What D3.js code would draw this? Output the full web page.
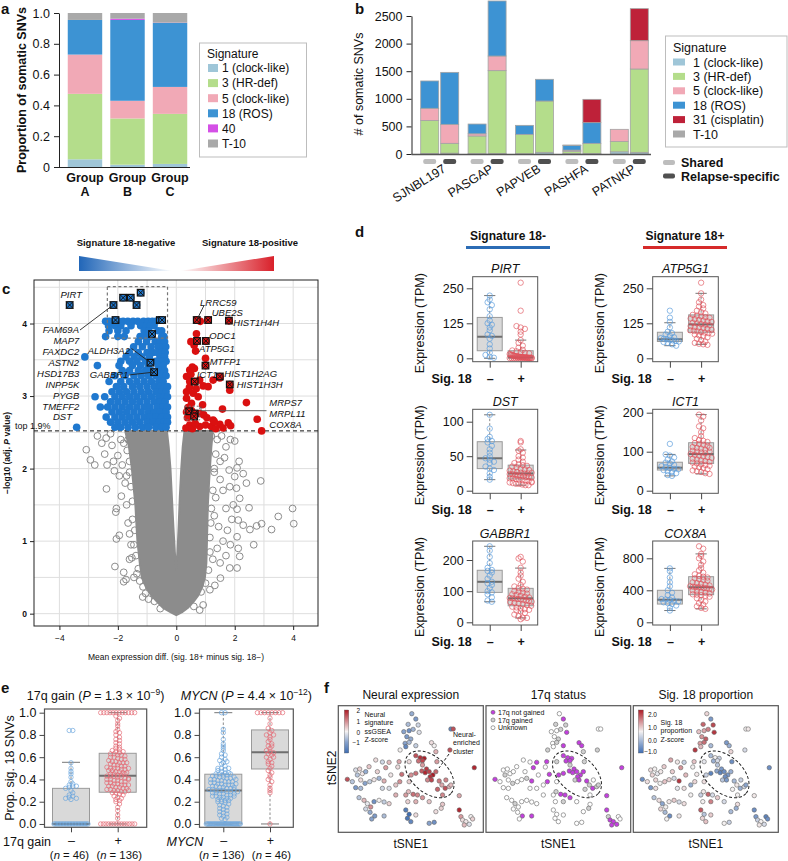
<!DOCTYPE html>
<html><head><meta charset="utf-8">
<script src="https://cdn.jsdelivr.net/npm/d3@7/dist/d3.min.js"></script>
<style>
html,body{margin:0;padding:0;background:#fff}
svg{display:block}
text{font-family:"Liberation Sans",Arial,Helvetica,sans-serif;fill:#111}
</style></head><body>
<svg id="fig" width="788" height="861"></svg>
<script>
// ================= DATA =================
// ---- panel a
const groupsA = ["A","B","C"];
const sigLabelsA = ["1 (clock-like)","3 (HR-def)","5 (clock-like)","18 (ROS)","40","T-10"];
const aSig1  = [0.050,0.015,0.020];
const aSig3  = [0.425,0.300,0.325];
const aSig5  = [0.255,0.115,0.175];
const aSig18 = [0.225,0.525,0.415];
const aSig40 = [0.000,0.008,0.002];
const aT10   = [0.045,0.037,0.063];
const aTicks = [0,0.2,0.4,0.6,0.8,1.0];
// ---- panel b
const patientsB = ["SJNBL197","PASGAP","PAPVEB","PASHFA","PATNKP"];
const sampleTypesB = ["Shared","Relapse-specific"];
const sigLabelsB = ["1 (clock-like)","3 (HR-def)","5 (clock-like)","18 (ROS)","31 (cisplatin)","T-10"];
// order: [shared, relapse] per patient
const bSig1  = [10,15, 6,10, 5,30, 10,8, 40,30];
const bSig3  = [595,178, 320,1500, 351,930, 40,185, 185,1510];
const bSig5  = [223,344, 40,265, 0,0, 20,0, 222,513];
const bSig18 = [495,942, 177,997, 163,393, 85,375, 0,0];
const bSig31 = [0,0, 0,0, 0,0, 0,422, 0,580];
const bT10   = [0,0, 0,0, 0,0, 8,0, 0,0];
const bTicks = [0,500,1000,1500,2000,2500];
// ---- panel c (volcano)
const cXTicks = [-4,-2,0,2,4];
const cYTicks = [0,1,2,3,4];
const cThreshold = 2.52;
const volBlueRows = [
 [4.03,[-2.42,-2.3,-2.18,-1.98,-1.82,-1.66,-1.48,-1.32,-1.12,-0.96,-0.82,-0.7]],
 [3.97,[-2.32,-2.1,-1.9,-1.55,-1.22,-1.02,-0.9,-0.76]],
 [3.90,[-2.3,-2.0,-1.72,-1.1,-0.94,-0.62,-0.5]],
 [3.82,[-2.42,-2.0,-1.78,-1.24,-1.05,-0.9,-0.5,-0.42]],
 [3.75,[-1.3,-1.02,-0.72,-0.56,-0.4]],
 [3.68,[-1.46,-1.16,-0.86,-0.62,-0.46,-0.36]],
 [3.60,[-1.6,-1.3,-1.0,-0.8,-0.65,-0.5,-0.38]],
 [3.54,[-3.13,-1.72,-1.44,-1.18,-0.92,-0.56,-0.4]],
 [3.48,[-1.9,-1.6,-1.35,-1.05,-0.7,-0.5,-0.35]],
 [3.42,[-2.7,-1.96,-1.5,-1.22,-0.96,-0.62,-0.45]],
 [3.35,[-1.85,-1.6,-1.3,-1.05,-0.85,-0.55,-0.4]],
 [3.28,[-2.1,-1.75,-1.45,-1.2,-0.95,-0.7,-0.5,-0.35]],
 [3.20,[-2.3,-1.9,-1.6,-1.35,-1.1,-0.85,-0.6,-0.45]],
 [3.13,[-2.05,-1.8,-1.5,-1.25,-1.0,-0.75,-0.55,-0.4,-0.3]],
 [3.06,[-2.2,-1.95,-1.7,-1.45,-1.2,-0.95,-0.7,-0.5,-0.35]],
 [2.99,[-2.78,-2.45,-2.1,-1.85,-1.6,-1.35,-1.1,-0.85,-0.6,-0.42,-0.3]],
 [2.92,[-2.25,-2.0,-1.75,-1.5,-1.25,-1.0,-0.75,-0.55,-0.38]],
 [2.85,[-2.6,-2.35,-2.1,-1.85,-1.6,-1.35,-1.1,-0.9,-0.65,-0.45,-0.3]],
 [2.78,[-2.2,-1.95,-1.7,-1.45,-1.2,-0.95,-0.75,-0.55,-0.35]],
 [2.71,[-2.4,-2.1,-1.85,-1.6,-1.35,-1.1,-0.9,-0.7,-0.5,-0.3]],
 [2.64,[-2.25,-2.0,-1.75,-1.5,-1.25,-1.0,-0.8,-0.6,-0.42,-0.3]],
 [2.57,[-3.41,-2.1,-1.9,-1.65,-1.4,-1.15,-0.95,-0.7,-0.5,-0.35]]
];
const volRed = [[0.70,4.05],[0.82,4.03],[1.09,4.05],[1.80,4.04],[0.69,3.86],[0.50,3.75],[0.61,3.70],[0.72,3.76],
 [1.01,3.76],[0.66,3.62],[1.0,3.52],[0.55,3.40],[0.46,3.36],[0.62,3.38],[0.35,3.27],[0.50,3.30],[0.46,3.20],
 [0.63,3.20],[0.80,3.22],[0.92,3.14],[1.09,3.13],[1.26,3.22],[1.83,3.08],[1.49,3.25],[0.35,3.06],[0.58,3.04],
 [0.75,2.99],[0.35,2.97],[0.52,2.90],[0.45,3.12],[0.68,3.10],[0.40,2.84],[2.40,2.91],[1.58,2.82],[2.77,2.68],
 [2.92,2.52],[0.80,2.76],[0.94,2.74],[1.26,2.67],[1.78,2.63],[1.86,2.59],[1.49,2.61],[1.20,2.58],[0.80,2.58],
 [0.46,2.60],[0.33,2.56],[0.55,2.55],[0.65,2.62],[1.00,2.60],[1.35,2.55],[1.60,2.56],[0.38,2.70],[0.62,2.70],
 [0.35,2.78],[0.52,2.80],[1.05,2.70],[0.90,2.88],[1.30,2.65]];
const hiBlueX = [-3.65,-2.15,-1.82,-1.56,-1.22,-1.36,-2.08,-0.565,-0.485,-0.83,-0.885,-0.76];
const hiBlueY = [4.255,4.255,4.356,4.356,4.425,4.255,4.048,4.048,4.048,3.855,3.46,3.33];
const hiRedX  = [0.70,1.09,1.80,1.01,0.71,1.00,0.63,1.49,1.83,0.44,0.63,0.61];
const hiRedY  = [4.048,4.048,4.04,3.76,3.76,3.42,3.20,3.27,3.16,2.79,2.76,2.72];
const greyCloudX = [-1.75,-1.62,-1.52,-1.45,-1.4,-1.36,-1.33,-1.25,-1.18,-1.02,-0.85,-0.6,-0.45,-0.2,0,0.2,0.4,0.6,0.75,0.9,0.98,1.03,1.05,1.08,1.12,1.15,1.2,1.25,0.28,0.22,0.17,0.12,0.08,0.04,0.0,-0.05,-0.1,-0.15,-0.2,-0.26,-0.32];
const greyCloudY = [2.52,2.3,2.0,1.7,1.5,1.2,1.0,0.7,0.5,0.35,0.25,0.14,0.08,0.02,-0.02,0.02,0.08,0.17,0.25,0.38,0.5,0.7,1.0,1.5,1.8,2.0,2.3,2.52,2.52,2.3,2.0,1.6,1.2,0.85,0.6,0.85,1.2,1.6,2.0,2.3,2.52];
const greyPts = [[-3.08,2.26],[-2.94,2.12],[-2.79,2.05],[-2.37,2.05],[-2.45,2.2],[-2.2,2.32],[-2.0,2.18],[-2.12,1.97],
 [-1.95,1.9],[-1.85,2.05],[-2.39,1.72],[-2.05,1.45],[-2.07,1.4],[-1.88,1.62],[-1.65,1.25],[-2.05,1.03],[-1.95,1.08],
 [-1.6,0.75],[-1.52,0.77],[-2.1,0.65],[-1.8,0.57],[-1.8,0.44],[-1.72,0.47],[-1.45,0.5],[-1.14,0.37],[-1.15,0.23],
 [-2.7,2.45],[-2.4,2.42],[-2.55,2.35],[-2.25,2.48],[-1.75,1.8],[-1.7,1.5],[-1.6,1.1],[-1.55,0.95],[-1.35,0.55],
 [-0.95,0.2],[-1.9,2.4],[-2.15,2.1],[-1.68,2.25],[-1.6,1.95],[-1.65,2.4],[-1.8,2.35],[-1.6,2.1],[-1.7,1.9],
 [-1.55,1.75],[-1.5,1.55],[-1.5,1.3],[-1.42,1.15],[-1.45,0.95],[-1.38,0.8],[-1.3,0.62],[-1.25,0.45],[-1.05,0.28],
 [-0.75,0.17],[-0.55,0.07],
 [2.15,2.10],[2.29,1.93],[2.40,1.80],[2.89,1.83],[2.08,2.01],[2.0,1.89],[1.81,1.98],[2.06,1.73],[1.83,1.75],
 [2.49,1.46],[3.98,1.45],[3.49,1.34],[4.02,1.24],[2.92,1.24],[2.75,1.21],[3.26,1.16],[2.52,1.16],[2.65,0.95],
 [2.29,1.22],[2.12,1.29],[2.08,1.44],[2.17,1.59],[2.08,1.06],[2.12,0.90],[2.17,0.79],[2.08,0.63],[1.83,0.63],
 [1.51,0.49],[1.32,0.39],[1.15,0.33],[1.7,2.3],[1.85,2.4],[1.55,2.45],[2.0,2.38],[1.65,2.15],[1.6,1.7],[1.7,1.45],
 [1.9,1.3],[1.75,1.15],[1.6,1.0],[1.85,0.95],[1.7,0.8],[1.5,0.7],[1.95,1.5],[1.45,1.2],[1.4,0.9],[0.92,0.12],
 [0.8,0.05],[1.3,2.0],[1.5,1.85],[1.2,2.45],[1.35,2.2],[1.3,1.95],[1.25,1.7],[1.2,1.45],[1.18,1.25],[1.15,1.05],
 [1.15,0.85],[1.1,0.6],[1.0,0.42],[0.85,0.3],[0.6,0.1],[1.4,2.4],[1.5,2.1],[1.35,1.6],[1.3,1.35],[1.25,0.75]];
// ---- panel d (expression boxplots); stats = [low whisker, Q1, median, Q3, high whisker]
const dGenes = ["PIRT","ATP5G1","DST","ICT1","GABBR1","COX8A"];
const dTicks = [[0,125,250],[0,125,250],[0,50,100],[0,100,200],[0,100,200],[0,400,800]];
const dStatNeg = [[0,27,77,146,224],[45,60,68,93,127],[16,32,47,71,110],[38,53,59,73,93],[66,96,130,167,244],[147,228,282,400,674]];
const dStatPos = [[0,0.5,3.5,27,65],[50,93,121,155,232],[8,17,25,37,59],[43,70,94,123,195],[14,53,77,109,174],[168,345,438,570,855]];
const dNeg = [
 [224,210,200,190,175,150,135,125,120,110,100,85,80,70,50,35,20,12,5,2],
 [170,145,130,110,95,90,85,80,75,72,70,68,66,64,62,60,58,55,50,45],
 [110,90,78,75,72,70,65,60,55,50,47,45,42,40,35,32,30,25,20,16],
 [120,93,90,85,80,75,72,70,66,63,60,58,56,55,53,50,48,45,40,38],
 [244,230,210,190,175,168,165,160,150,140,130,125,120,110,100,96,90,80,70,66],
 [674,640,560,500,450,400,370,340,310,290,285,280,270,260,250,240,230,210,180,147]];
const dPos = [
 [270,170,115,110,105,95,85,65,55,45,38,30,28,25,22,20,18,15,14,12,10,9,8,7,6,6,5,5,4,4,4,3,3,3,2,2,2,2,1,1,1,1,1,0.5,0.5,0.5,0,0,0,0],
 [270,232,210,200,190,185,178,170,165,160,155,152,150,147,145,142,140,137,135,132,130,127,125,122,120,118,115,112,110,108,105,102,100,98,96,94,92,90,88,85,82,80,75,70,65,60,55,52,50,48],
 [72,70,60,58,55,50,48,45,42,40,38,37,36,35,34,32,31,30,29,28,27,26,25,25,24,24,23,22,22,21,20,20,19,18,18,17,16,16,15,14,13,12,11,10,10,9,8,8,12,26],
 [195,190,180,165,160,150,140,135,130,128,125,122,120,118,115,112,110,108,105,102,100,98,96,94,92,90,88,86,84,82,80,78,76,74,72,70,68,66,64,62,60,58,55,52,50,48,45,43,100,110],
 [210,205,195,175,160,150,140,130,120,115,110,108,105,100,98,95,92,90,88,85,82,80,78,77,76,75,74,72,70,68,66,65,62,60,58,55,53,50,48,45,42,40,38,35,30,25,20,15,10,14],
 [950,920,855,830,800,760,720,680,650,620,600,580,570,560,550,540,530,520,500,490,480,470,460,450,445,440,438,435,430,425,420,410,400,390,380,370,360,350,345,340,330,320,300,280,260,240,220,200,180,168]];
// ---- panel e
const eTicks = [0,0.2,0.4,0.6,0.8,1.0];
const e17Stat = [[0,0,0,0.32,0.554],[0,0.285,0.434,0.635,1.0]];
const eMycStat = [[0,0,0.30,0.447,1.0],[0,0.494,0.644,0.845,1.0]];
const e17Neg = [0,0,0,0,0,0,0,0,0,0,0,0,0,0,0,0,0,0,0,0,0,0,0,0,
 0.22,0.23,0.24,0.25,0.26,0.28,0.3,0.32,0.33,0.34,0.35,0.36,0.38,0.42,0.45,0.47,0.5,0.55,0.84,0.84,0.23,0.34];
const e17Pos = [0,0,0,0,0,0,0,0,0,0,0,0,0,0, 1,1,1,1,1,1,1,1,1,1,1,1,
 0.97,0.95,0.93,0.9,0.88,0.85,0.83,0.82,0.8,0.78,0.76,0.75,
 0.73,0.72,0.7,0.69,0.68,0.67,0.66,0.65,0.64,0.63,0.63,0.62,0.62,0.61,0.6,0.6,
 0.59,0.58,0.58,0.57,0.56,0.56,0.55,0.55,0.54,0.53,0.53,0.52,0.52,0.51,0.5,0.5,0.5,0.49,0.49,0.48,
 0.48,0.47,0.47,0.46,0.46,0.45,0.45,0.44,0.44,0.43,0.43,0.43,0.42,0.42,0.41,0.41,0.4,0.4,0.39,0.39,
 0.38,0.38,0.37,0.37,0.36,0.36,0.35,0.35,0.34,0.34,0.33,0.33,0.32,0.32,0.31,0.31,0.3,0.3,0.29,0.29,
 0.28,0.28,0.27,0.26,0.25,0.24,0.23,0.22,0.21,0.2,0.18,0.15,0.12,0.08,0.05,0.35,0.45,0.55,0.65,0.4,0.5,0.3];
const eMycNeg = [0,0,0,0,0,0,0,0,0,0,0,0,0,0,0,0,0,0,0,0,0,0,0,0,0,0,0,0,0,0, 1,1,
 0.85,0.82,0.76,0.72,0.7,0.68,0.66,0.63,0.6,0.58,0.57,0.55,0.54,0.52,0.5,0.5,
 0.49,0.48,0.47,0.46,0.45,0.45,0.44,0.44,0.43,0.43,0.42,0.42,0.41,0.41,0.4,0.4,0.39,0.39,0.38,0.38,
 0.37,0.37,0.36,0.36,0.35,0.35,0.34,0.34,0.33,0.33,0.32,0.32,0.31,0.31,0.3,0.3,0.3,0.29,0.29,0.28,
 0.28,0.27,0.27,0.26,0.26,0.25,0.25,0.24,0.24,0.23,0.23,0.22,0.22,0.21,0.21,0.2,0.2,0.19,0.18,0.17,
 0.16,0.15,0.14,0.13,0.12,0.11,0.1,0.09,0.08,0.07,0.06,0.05,0.04,0.35,0.31,0.27,0.33,0.29,0.25,0.38,0.42,0.46,0.5,0.56,0.62,0.45,0.4,0.36];
const eMycPos = [0, 1,1,1,1,1,1,1,1,
 0.95,0.9,0.86,0.84,0.82,0.8,0.78,0.76,0.74,0.72,0.7,0.68,0.66,0.65,0.64,0.63,0.62,0.6,0.58,0.56,
 0.54,0.52,0.5,0.48,0.46,0.44,0.42,0.4,0.38,0.35,0.32,0.3,0.28,0.55,0.6,0.7,0.8];
// ---- panel f (tSNE)
const tsne1 = [0.3,1.5,-0.8,2.2,-2.1,-0.5,0.7,2.5,-1.2,0.0,-1.7,-0.5,-1.5,1.5,12.0,12.7,6.2,7.0,11.7,7.5,
 1.5,2.8,4.0,2.3,3.5,7.8,-0.5,4.7,3.3,4.3,5.5,6.6,7.5,5.8,5.0,1.5,0.1,8.5,9.3,10.3,11.5,8.0,6.2,3.5,12.0,-0.5,10.5,
 -19.0,-16.5,-15.3,-16.0,-14.5,-13.5,-12.5,-10.5,-8.5,-6.5,-7.5,-16.5,-15.0,-13.7,-12.3,-11.0,-9.5,-10.0,-8.0,-6.5,
 -4.5,-3.3,-2.7,-3.9,-3.5,-15.5,-14.0,-13.0,-12.0,-13.5,-11.0,-9.5,-8.0,-6.5,-12.2,-10.8,-8.0,-11.7,-17.5,-15.0,-6.0,-8.5,-4.5,
 -1.5,-0.7,0.7,2.0,3.5,-0.9,1.5,-1.5,-0.5,-1.0,0.0,5.5,7.0,7.5,9.5,9.1,14.5,14.5,15.0,15.5,16.5,18.0,17.5,18.5,16.0,19.0,1.5,5.5,9.5,-3.2];
const tsne2 = [16.6,15.0,13.4,13.2,11.2,11.5,11.9,11.0,9.7,9.0,7.7,8.0,6.7,7.0,12.0,12.0,7.9,7.0,5.7,5.2,
 4.0,3.4,3.2,2.4,2.5,2.2,2.2,0.0,-0.6,-1.1,-0.8,-1.8,-0.8,-2.3,-3.3,-1.3,-1.8,-3.6,-4.8,-5.8,-5.3,-6.1,-3.3,1.2,-4.8,-3.8,-3.3,
 -3.1,-0.3,0.0,-1.8,-1.4,-0.8,0.7,2.7,2.1,2.0,0.4,-5.6,-5.8,-4.3,-3.8,-3.2,-2.8,-0.8,-3.6,-5.8,
 -4.8,-3.8,-1.6,0.6,2.2,-8.6,-9.4,-10.4,-11.4,-12.0,-9.8,-9.4,-9.9,-10.4,-13.0,-14.1,-14.1,-15.0,-3.8,-3.3,-1.8,-5.8,-7.8,
 -7.8,-6.8,-7.6,-7.8,-8.6,-9.8,-9.8,-12.3,-13.6,-14.8,-15.8,-16.3,-16.0,-12.8,-10.6,-11.8,-8.0,-12.3,-14.3,-15.3,-15.8,-14.3,-16.6,-15.0,-16.8,0.4,-13.8,-9.8,-7.8,5.7];
// n = 17q not gained, g = 17q gained, u = unknown
const status17q = ("ungguugnug"+"ugunuunngg"+"nnnnnggnnn"+"nnnngnnngn"+"ggngguunuu"+
  "guuuuunnuu"+"guugunuunn"+"unuuguuuuu"+"uunnuuuuuu"+"ugnnnuguuu"+"uuuuugnngn"+"nununnuuug").split("");
const neuralZ = [-0.8,-1.0,-0.6,-0.3,-0.9,-1.1,-0.7,-0.2,-1.0,-0.8,-0.9,-0.6,-1.2,-0.4,-1.2,1.5,0.2,0.0,1.5,0.6,
 1.5,1.8,2.0,1.2,1.6,0.8,0.2,1.7,1.4,1.9,1.6,2.0,1.3,1.8,1.0,1.2,0.9,1.1,0.7,1.5,0.6,1.3,1.6,0.8,0.5,0.3,1.0,
 1.5,-0.2,0.3,-0.5,0.1,-0.8,0.4,0.2,-0.3,0.5,0.8,-1.0,-0.6,-0.9,-0.4,0.1,-0.7,0.3,0.6,-0.2,0.4,0.9,1.2,0.2,0.7,
 -0.5,0.5,-0.1,0.9,-0.3,-1.1,0.0,-0.4,0.3,-0.8,-1.0,-0.6,-0.9,-0.5,0.2,0.1,-0.3,0.6,
 0.8,0.5,1.2,1.0,0.9,0.3,0.6,-1.3,-1.5,-1.4,-1.2,-0.9,-1.1,0.2,0.4,0.3,0.7,1.9,0.8,0.2,0.1,0.0,-0.2,0.3,0.5,1.9,0.2,0.4,1.0,0.0];
const sig18Z = [0.3,-0.8,1.5,1.8,0.5,0.8,1.2,2.0,1.0,1.6,0.9,1.4,0.6,-0.5,0.0,0.1,-0.8,-0.6,-0.2,0.3,
 -0.5,0.0,-0.3,-0.6,-0.2,-0.9,-0.1,-0.8,-0.7,-1.0,-0.9,-0.8,-0.6,-0.9,-0.4,-1.0,-0.3,-0.5,0.1,-0.6,-0.2,0.0,-0.8,-0.4,-0.7,0.2,-0.3,
 -0.9,0.2,0.0,0.3,-0.1,0.1,0.4,0.8,0.1,-0.3,1.0,-0.8,0.2,0.0,0.5,0.3,-0.2,0.4,2.0,0.2,-0.6,0.3,0.1,0.0,0.5,
 -0.4,0.2,-0.7,0.0,0.3,0.1,0.4,-0.2,0.2,-0.5,-0.9,0.1,0.0,0.2,0.3,0.6,-0.1,0.0,
 -0.3,0.1,1.5,-0.2,0.4,0.0,1.2,1.6,-0.4,0.3,0.5,0.0,-0.3,-0.5,0.2,-0.6,0.1,-0.9,-0.8,-0.3,0.0,-1.0,-0.2,-0.9,0.1,-0.9,0.4,-0.2,0.0,2.0];

// ================= DRAWING =================
const C = {s1:"#9fc6d8", s3:"#b4dd8b", s5:"#f1a9b6", s18:"#3d93d3", s40:"#d450e6", t10:"#a9a9a9", s31:"#be2139"};
const svg = d3.select("#fig");
svg.append("rect").attr("width",788).attr("height",861).attr("fill","#fff");
const defs=svg.append("defs");

function T(g,x,y,s,o={}){
  const t=g.append("text").attr("x",x).attr("y",y).text(s)
    .attr("font-size",o.size||12).attr("text-anchor",o.anchor||"start");
  if(o.weight) t.attr("font-weight",o.weight);
  if(o.style) t.attr("font-style",o.style);
  if(o.rotate!=null) t.attr("transform",`rotate(${o.rotate},${x},${y})`);
  if(o.fill) t.style("fill",o.fill);
  return t;
}
function styleAx(ax,size,weight,col){
  ax.attr("font-family",null).attr("font-size",null);
  ax.selectAll("text").attr("font-size",size).attr("font-weight",weight||null);
  ax.selectAll("line,path").attr("stroke",col||"#222");
}
function swarm(values,yS,cx,maxHalf,spacing,binPx){
  const items=values.map((v,i)=>({v,i,py:yS(v)}));
  const bins=d3.group(items,d=>Math.round(d.py/binPx));
  const out=[];
  for(const [k,arr] of bins){
    const n=arr.length; const sp=n>1?Math.min(spacing,2*maxHalf/(n-1)):0;
    arr.forEach((d,j)=>out.push({v:d.v,x:cx+(j-(n-1)/2)*sp,y:d.py}));
  }
  return out;
}
function boxplot(g,cx,yS,st,w,opt={}){
  const wc=opt.cap||w*0.45;
  g.append("line").attr("x1",cx).attr("x2",cx).attr("y1",yS(st[0])).attr("y2",yS(st[4]))
    .attr("stroke","#8a8a8a").attr("stroke-width",1).attr("stroke-dasharray","2.5,2");
  [st[0],st[4]].forEach(v=>g.append("line").attr("x1",cx-wc/2).attr("x2",cx+wc/2).attr("y1",yS(v)).attr("y2",yS(v))
    .attr("stroke","#777").attr("stroke-width",1));
  g.append("rect").attr("x",cx-w/2).attr("width",w).attr("y",yS(st[3])).attr("height",Math.max(0.5,yS(st[1])-yS(st[3])))
    .attr("fill","#d9d9d9").attr("stroke","#9a9a9a").attr("stroke-width",1);
  g.append("line").attr("x1",cx-w/2).attr("x2",cx+w/2).attr("y1",yS(st[2])).attr("y2",yS(st[2]))
    .attr("stroke","#6e6e6e").attr("stroke-width",2);
}

// panel letters
[["a",1,14],["b",355,14],["c",2,294],["d",355,237],["e",1,693],["f",324,693]].forEach(([l,x,y])=>T(svg,x,y,l,{size:15,weight:"bold"}));

// ---------- Panel a ----------
{
  const g=svg.append("g");
  const y=d3.scaleLinear([0,1],[167,13]);
  const x=d3.scaleBand(groupsA,[63.5,191.5]).paddingInner(0.19).paddingOuter(0.1);
  const series=[aSig1,aSig3,aSig5,aSig18,aSig40,aT10];
  const cols=[C.s1,C.s3,C.s5,C.s18,C.s40,C.t10];
  const st=d3.stack().keys(d3.range(series.length)).value((i,k)=>series[k][i])(d3.range(groupsA.length));
  st.forEach((layer,k)=>{
    g.selectAll(null).data(layer).join("rect")
      .attr("x",(d,i)=>x(groupsA[i])).attr("width",x.bandwidth())
      .attr("y",d=>y(d[1])).attr("height",d=>Math.max(0,y(d[0])-y(d[1]))).attr("fill",cols[k]);
  });
  const ax=g.append("g").attr("transform","translate(59,0)")
    .call(d3.axisLeft(y).tickValues(aTicks).tickFormat(d=>d===0?"0":d3.format(".1f")(d)).tickSize(5).tickSizeOuter(0).tickPadding(4));
  styleAx(ax,12.5);
  g.append("line").attr("x1",59).attr("x2",190).attr("y1",167.5).attr("y2",167.5).attr("stroke","#222");
  groupsA.forEach(gr=>{
    const cx=x(gr)+x.bandwidth()/2;
    T(g,cx,181.5,"Group",{size:12.5,weight:"bold",anchor:"middle"});
    T(g,cx,196,gr,{size:12.5,weight:"bold",anchor:"middle"});
  });
  T(g,26,90,"Proportion of somatic SNVs",{size:12.5,weight:"bold",anchor:"middle",rotate:-90});
  g.append("rect").attr("x",199.5).attr("y",43).attr("width",107).attr("height",114).attr("fill","none").attr("stroke","#bdbdbd");
  T(g,207,57.5,"Signature",{size:12});
  sigLabelsA.forEach((s,i)=>{
    const cy=68+i*15.1;
    g.append("rect").attr("x",208).attr("y",cy-4).attr("width",10).attr("height",8).attr("fill",cols[i]);
    T(g,222,cy+4.3,s,{size:12});
  });
}

// ---------- Panel b ----------
{
  const g=svg.append("g");
  const y=d3.scaleLinear([0,2500],[154,16]);
  const x=d3.scaleBand(patientsB,[416,653]);
  const series=[bSig1,bSig3,bSig5,bSig18,bSig31,bT10];
  const cols=[C.s1,C.s3,C.s5,C.s18,C.s31,C.t10];
  const idx=d3.range(bSig1.length);
  const st=d3.stack().keys(d3.range(series.length)).value((i,k)=>series[k][i])(idx);
  const bx=i=>x(patientsB[Math.floor(i/2)])+x.bandwidth()/2+(i%2?1:-19);
  st.forEach((layer,k)=>{
    g.selectAll(null).data(layer.filter(d=>d[1]>d[0]).map(d=>({d,i:d.data}))).join("rect")
      .attr("x",o=>bx(o.i)).attr("width",18)
      .attr("y",o=>y(o.d[1])).attr("height",o=>y(o.d[0])-y(o.d[1]))
      .attr("fill",cols[k]).attr("stroke","#a3a3a3").attr("stroke-width",0.8);
  });
  const ax=g.append("g").attr("transform","translate(411.5,0)")
    .call(d3.axisLeft(y).tickValues(bTicks).tickFormat(d3.format("d")).tickSize(5).tickSizeOuter(0).tickPadding(4));
  styleAx(ax,12.5);
  g.append("line").attr("x1",411.5).attr("x2",651).attr("y1",154.5).attr("y2",154.5).attr("stroke","#555").attr("stroke-width",1.4);
  idx.forEach(i=>{
    g.append("rect").attr("x",bx(i)+2.5).attr("y",159).attr("width",13).attr("height",5).attr("rx",2)
      .attr("fill",i%2?"#505050":"#bdbdbd");
  });
  patientsB.forEach(p=>{
    const cx=x(p)+x.bandwidth()/2+7;
    T(g,cx,171,p,{size:12.5,anchor:"end",rotate:-32});
  });
  T(g,362.5,84,"# of somatic SNVs",{size:12.5,anchor:"middle",rotate:-90});
  g.append("rect").attr("x",665.5).attr("y",36).attr("width",121.5).attr("height",111).attr("fill","none").attr("stroke","#bdbdbd");
  T(g,673,51.5,"Signature",{size:12.5});
  sigLabelsB.forEach((s,i)=>{
    const cy=62+i*14.4;
    g.append("rect").attr("x",673).attr("y",cy-3.5).attr("width",12).attr("height",7).attr("fill",cols[i]);
    T(g,693,cy+4.5,s,{size:12.5});
  });
  sampleTypesB.forEach((s,i)=>{
    const cy=162.5+i*13.5;
    g.append("rect").attr("x",663).attr("y",cy-2.5).attr("width",12).attr("height",5).attr("rx",2).attr("fill",i?"#505050":"#bdbdbd");
    T(g,681,cy+4.5,s,{size:12.5,weight:"bold"});
  });
}

// ---------- Panel c (volcano) ----------
{
  const g=svg.append("g");
  const x=d3.scaleLinear([-4.87,4.85],[34,318]);
  const y=d3.scaleLinear([-0.17,4.6],[626,280]);
  const BLUE="#1f78cf", RED="#da1010", GREY="#8c8c8c";
  T(g,126,246,"Signature 18-negative",{size:9.5,weight:"bold",anchor:"middle"});
  T(g,250,246,"Signature 18-positive",{size:9.5,weight:"bold",anchor:"middle"});
  const gb=defs.append("linearGradient").attr("id","gBlue");
  gb.append("stop").attr("offset","0").attr("stop-color","#2166b8");
  gb.append("stop").attr("offset","1").attr("stop-color","#ffffff");
  const gr=defs.append("linearGradient").attr("id","gRed");
  gr.append("stop").attr("offset","0").attr("stop-color","#ffffff");
  gr.append("stop").attr("offset","1").attr("stop-color","#d9202a");
  g.append("path").attr("d","M79,256 L79,271 L173,271 Z").attr("fill","url(#gBlue)");
  g.append("path").attr("d","M180,271 L274,271 L274,256 Z").attr("fill","url(#gRed)");
  d3.range(-4,5).forEach(v=>g.append("line").attr("x1",x(v)).attr("x2",x(v)).attr("y1",280).attr("y2",626).attr("stroke","#dedede"));
  d3.range(0,4.6,0.5).forEach(v=>g.append("line").attr("x1",34).attr("x2",318).attr("y1",y(v)).attr("y2",y(v)).attr("stroke","#dedede"));
  const poly=greyCloudX.map((vx,i)=>[x(vx),y(greyCloudY[i])]);
  g.append("path").attr("d",d3.line().curve(d3.curveLinearClosed)(poly)).attr("fill",GREY).attr("stroke",GREY).attr("stroke-width",2);
  g.selectAll(null).data(greyPts).join("circle").attr("cx",d=>x(d[0])).attr("cy",d=>y(d[1])).attr("r",3.4)
    .attr("fill","none").attr("stroke",GREY).attr("stroke-width",1);
  g.append("line").attr("x1",34).attr("x2",318).attr("y1",y(cThreshold)).attr("y2",y(cThreshold))
    .attr("stroke","#111").attr("stroke-width",1).attr("stroke-dasharray","4,3");
  const blue=volBlueRows.flatMap(([vy,xs])=>xs.map(vx=>[vx,vy]));
  g.selectAll(null).data(blue).join("circle").attr("cx",d=>x(d[0])).attr("cy",d=>y(d[1])).attr("r",3.8).attr("fill",BLUE);
  g.selectAll(null).data(volRed).join("circle").attr("cx",d=>x(d[0])).attr("cy",d=>y(d[1])).attr("r",3.8).attr("fill",RED);
  function hi(xs,ys,col){
    xs.forEach((vx,i)=>{
      const px=x(vx), py=y(ys[i]);
      g.append("circle").attr("cx",px).attr("cy",py).attr("r",3.8).attr("fill",col);
      g.append("rect").attr("x",px-3.3).attr("y",py-3.3).attr("width",6.6).attr("height",6.6).attr("fill","none").attr("stroke","#111").attr("stroke-width",1.2);
      g.append("path").attr("d",`M${px-3.3},${py-3.3}L${px+3.3},${py+3.3}M${px+3.3},${py-3.3}L${px-3.3},${py+3.3}`).attr("stroke","#111").attr("stroke-width",1);
    });
  }
  hi(hiBlueX,hiBlueY,BLUE); hi(hiRedX,hiRedY,RED);
  g.append("rect").attr("x",x(-2.36)).attr("y",y(4.51)).attr("width",x(-0.30)-x(-2.36)).attr("height",y(3.80)-y(4.51))
    .attr("fill","none").attr("stroke","#777").attr("stroke-width",1.2).attr("stroke-dasharray","3,2.5");
  g.append("rect").attr("x",x(0.29)).attr("y",y(2.86)).attr("width",x(0.80)-x(0.29)).attr("height",y(2.67)-y(2.86))
    .attr("fill","none").attr("stroke","#777").attr("stroke-width",1).attr("stroke-dasharray","2,2");
  g.append("rect").attr("x",34).attr("y",280).attr("width",284).attr("height",346).attr("fill","none").attr("stroke","#222").attr("stroke-width",1);
  const ay=g.append("g").attr("transform","translate(34,0)").call(d3.axisLeft(y).tickValues(cYTicks).tickFormat(d3.format("d")).tickSize(4).tickSizeOuter(0).tickPadding(3));
  ay.select(".domain").remove(); styleAx(ay,8.5,"bold");
  const axx=g.append("g").attr("transform","translate(0,626)").call(d3.axisBottom(x).tickValues(cXTicks).tickFormat(d=>d<0?"\u2212"+Math.abs(d):d).tickSize(4).tickSizeOuter(0).tickPadding(5));
  axx.select(".domain").remove(); styleAx(axx,8.5);
  T(g,176,660,"Mean expression diff. (sig. 18+ minus sig. 18\u2212)",{size:8.5,anchor:"middle"});
  const yl=T(g,9.5,453,"",{size:8.5,weight:"bold",anchor:"middle",rotate:-90});
  yl.append("tspan").text("\u2212log10 (adj. ");
  yl.append("tspan").attr("font-style","italic").text("P");
  yl.append("tspan").text(" value)");
  T(g,15,428.5,"top  1.9%",{size:9});
  const it={size:9.5,style:"italic"};
  [["PIRT",82,298.3],["FAM69A",79,333.3],["MAP7",79.3,344.3],["FAXDC2",79.3,355],["ASTN2",79,366],["HSD17B3",79.3,377],
   ["INPP5K",79.3,387.6],["PYGB",79.3,398.6],["TMEFF2",79.3,410],["DST",72,420.3],["ALDH3A2",130,354.3],["GABBR1",128.3,377.6]]
   .forEach(([s,px,py])=>T(g,px,py,s,Object.assign({anchor:"end"},it)));
  [["LRRC59",200,305.6],["UBE2S",211.7,315.6],["HIST1H4H",233.3,325.6],["ODC1",209.3,339],["ATP5G1",199,352.3],
   ["MTFP1",209.7,365],["ICT1",196.7,378.3],["HIST1H2AG",224.3,377.3],["HIST1H3H",236.7,387.6],
   ["MRPS7",269.3,406],["MRPL11",269.3,416.6],["COX8A",269.3,427.6]].forEach(([s,px,py])=>T(g,px,py,s,it));
  const L=(x1,y1,x2,y2,c)=>g.append("line").attr("x1",x1).attr("y1",y1).attr("x2",x2).attr("y2",y2).attr("stroke",c||"#222").attr("stroke-width",0.9);
  L(80,330,x(hiBlueX[1])-3,y(hiBlueY[1])+2);
  L(131.5,348.5,x(hiBlueX[10]),y(hiBlueY[10]));
  L(128.5,375,x(hiBlueX[11]),y(hiBlueY[11]));
  L(204,305.5,x(hiRedX[0]),y(hiRedY[0]));
  L(201,406.5,201,410.7,"#555"); L(201,410.7,266.5,410.7,"#555");
}

// ---------- Panel d ----------
{
  const g=svg.append("g");
  T(g,508,240,"Signature 18-",{size:12,weight:"bold",anchor:"middle"});
  T(g,685,240,"Signature 18+",{size:12,weight:"bold",anchor:"middle"});
  g.append("line").attr("x1",466).attr("x2",550).attr("y1",247.5).attr("y2",247.5).attr("stroke","#2b6cb5").attr("stroke-width",3);
  g.append("line").attr("x1",643).attr("x2",727).attr("y1",247.5).attr("y2",247.5).attr("stroke","#d62a2a").attr("stroke-width",3);
  const cols=[[472.7,537.7],[652.7,718.3]];
  const rows=[[276.7,361.7],[409.3,493.3],[541,625]];
  const zeroPx=[358.3,358.3,490.7,490.7,622.3,622.3];
  const topPx=[288.3,288.3,421.7,412.7,560,558.3];
  dGenes.forEach((gene,k)=>{
    const [x0,x1]=cols[k%2], [y0,y1]=rows[Math.floor(k/2)];
    const tk=dTicks[k];
    const y=d3.scaleLinear([0,tk[2]],[zeroPx[k],topPx[k]]);
    const xs=d3.scalePoint(["\u2013","+"],[x0,x1]).padding(0.55);
    const gg=g.append("g");
    gg.append("rect").attr("x",x0).attr("y",y0).attr("width",x1-x0).attr("height",y1-y0).attr("fill","#fff");
    boxplot(gg,xs("\u2013"),y,dStatNeg[k],25);
    boxplot(gg,xs("+"),y,dStatPos[k],25);
    const pn=swarm(dNeg[k],y,xs("\u2013"),9,4.2,4);
    const pp=swarm(dPos[k],y,xs("+"),11,4.2,4);
    gg.selectAll(null).data(pn).join("circle").attr("cx",d=>d.x).attr("cy",d=>d.y).attr("r",2.7)
      .attr("fill","none").attr("stroke","#5b9bdc").attr("stroke-width",0.8).attr("opacity",0.85);
    gg.selectAll(null).data(pp).join("circle").attr("cx",d=>d.x).attr("cy",d=>d.y).attr("r",2.7)
      .attr("fill","none").attr("stroke","#e0505a").attr("stroke-width",0.8).attr("opacity",0.8);
    gg.append("rect").attr("x",x0).attr("y",y0).attr("width",x1-x0).attr("height",y1-y0).attr("fill","none").attr("stroke","#555").attr("stroke-width",1);
    const ay=gg.append("g").attr("transform",`translate(${x0},0)`).call(d3.axisLeft(y).tickValues(tk).tickSize(6).tickSizeOuter(0).tickPadding(3));
    ay.select(".domain").remove(); styleAx(ay,12.5,null,"#444");
    const ax=gg.append("g").attr("transform",`translate(0,${y1})`).call(d3.axisBottom(xs).tickSize(6).tickSizeOuter(0).tickPadding(6));
    ax.select(".domain").remove(); styleAx(ax,12.5,"bold","#444");
    T(gg,x0-1,y1+21,"Sig. 18",{size:12.5,weight:"bold",anchor:"end"});
    T(gg,(x0+x1)/2,y0-3.5,gene,{size:12.5,style:"italic",anchor:"middle"});
    T(gg,x0-49,(y0+y1)/2+4,"Expression (TPM)",{size:12.5,anchor:"middle",rotate:-90});
  });
}

// ---------- Panel e ----------
{
  const g=svg.append("g");
  const y=d3.scaleLinear([-0.03,1.033],[827.3,709]);
  const panels=[
    {x0:44.5,x1:146.7,c:[71,117.7],stat:e17Stat,neg:e17Neg,pos:e17Pos,lab:"17q gain",labIt:false,n:["46","136"],
     title:[["17q gain (",0],["P",1],[" = 1.3 \u00d7 10",0],["\u22129",2],[")",3]]},
    {x0:199.5,x1:293.3,c:[223.3,270],stat:eMycStat,neg:eMycNeg,pos:eMycPos,lab:"MYCN",labIt:true,n:["136","46"],
     title:[["MYCN",1],[" (",0],["P",1],[" = 4.4 \u00d7 10",0],["\u221212",2],[")",3]]}];
  panels.forEach(p=>{
    const gg=g.append("g");
    const xs=d3.scalePoint(["\u2013","+"],p.c);
    gg.append("rect").attr("x",p.x0).attr("y",709).attr("width",p.x1-p.x0).attr("height",118.3).attr("fill","#fff");
    boxplot(gg,xs("\u2013"),y,p.stat[0],37,{cap:18});
    boxplot(gg,xs("+"),y,p.stat[1],37,{cap:18});
    const pn=swarm(p.neg,y,xs("\u2013"),17,3.6,3.2);
    const pp=swarm(p.pos,y,xs("+"),17,3.6,3.2);
    gg.selectAll(null).data(pn).join("circle").attr("cx",d=>d.x).attr("cy",d=>d.y).attr("r",2.2)
      .attr("fill","none").attr("stroke","#6aa5dd").attr("stroke-width",0.8).attr("opacity",0.85);
    gg.selectAll(null).data(pp).join("circle").attr("cx",d=>d.x).attr("cy",d=>d.y).attr("r",2.2)
      .attr("fill","none").attr("stroke","#e56a73").attr("stroke-width",0.8).attr("opacity",0.85);
    gg.append("rect").attr("x",p.x0).attr("y",709).attr("width",p.x1-p.x0).attr("height",118.3).attr("fill","none").attr("stroke","#555").attr("stroke-width",1.2);
    const ay=gg.append("g").attr("transform",`translate(${p.x0},0)`).call(d3.axisLeft(y).tickValues(eTicks).tickFormat(d3.format(".1f")).tickSize(5).tickSizeOuter(0).tickPadding(3));
    ay.select(".domain").remove(); styleAx(ay,12.5,null,"#444");
    const ax=gg.append("g").attr("transform","translate(0,827.3)").call(d3.axisBottom(xs).tickSize(5).tickSizeOuter(0).tickPadding(4));
    ax.select(".domain").remove(); styleAx(ax,12.5,null,"#444");
    T(gg,xs("\u2013")-20,846,p.lab,{size:12.5,anchor:"end",style:p.labIt?"italic":null});
    p.n.forEach((nn,i)=>{
      const t=T(gg,xs(i?"+":"\u2013")+(i?1.5:-1.5),859,"",{size:11.3,anchor:"middle"});
      t.append("tspan").text("(");
      t.append("tspan").attr("font-style","italic").text("n");
      t.append("tspan").text(" = "+nn+")");
    });
    const tt=T(gg,(p.x0+p.x1)/2,700,"",{size:12.5,anchor:"middle"});
    p.title.forEach(([s,f])=>{
      const ts=tt.append("tspan").text(s);
      if(f===1) ts.attr("font-style","italic");
      if(f===2) ts.attr("dy",-5).attr("font-size",8.5);
      if(f===3) ts.attr("dy",5);
    });
  });
  T(g,14,768,"Prop. sig. 18 SNVs",{size:12.5,anchor:"middle",rotate:-90});
}

// ---------- Panel f ----------
{
  const g=svg.append("g");
  const fx=[[338.3,483.3],[486,630.7],[633.3,778.3]];
  const Y0=705.7, Y1=832.3;
  const neuralCol=d3.scaleLinear([-1.5,0,2],["#3e6db3","#f4f1f1","#ad1a25"]).clamp(true);
  const sigCol=d3.scaleLinear([-1.2,0,2.3],["#3e6db3","#f4f1f1","#ad1a25"]).clamp(true);
  const stCol={n:"#c33fde",g:"#cfcfcf",u:"#ffffff"};
  const titles=["Neural expression","17q status","Sig. 18 proportion"];
  fx.forEach(([x0,x1],p)=>{
    const gg=g.append("g");
    const x=d3.scaleLinear([-21.7,21.7],[x0,x1]);
    const y=d3.scaleLinear([-19,19],[Y1,Y0]);
    gg.append("rect").attr("x",x0).attr("y",Y0).attr("width",x1-x0).attr("height",Y1-Y0).attr("fill","#fff").attr("stroke","#555").attr("stroke-width",1.2);
    T(gg,(x0+x1)/2,699,titles[p],{size:12,anchor:"middle"});
    T(gg,(x0+x1)/2,847.5,"tSNE1",{size:12,anchor:"middle"});
    const fill=i=>p===0?neuralCol(neuralZ[i]):p===1?stCol[status17q[i]]:sigCol(sig18Z[i]);
    gg.selectAll(null).data(d3.range(tsne1.length)).join("circle")
      .attr("cx",i=>x(tsne1[i])).attr("cy",i=>y(tsne2[i])).attr("r",2.2)
      .attr("fill",fill).attr("stroke","#666").attr("stroke-width",0.6);
    const cx=x(5.6), cy=y(-1.6);
    gg.append("ellipse").attr("cx",cx).attr("cy",cy).attr("rx",x(8.6)-x(0)).attr("ry",x(5.4)-x(0))
      .attr("transform",`rotate(42,${cx},${cy})`).attr("fill","none").attr("stroke","#222").attr("stroke-width",1).attr("stroke-dasharray","3,2");
    if(p===0){
      const gd=defs.append("linearGradient").attr("id","gNeural").attr("x1",0).attr("x2",0).attr("y1",1).attr("y2",0);
      [-1.8,-0.9,0,1,2.1].forEach((v,i)=>gd.append("stop").attr("offset",i/4).attr("stop-color",neuralCol(v)));
      gg.append("rect").attr("x",344.3).attr("y",710).attr("width",4.5).attr("height",43).attr("fill","url(#gNeural)").attr("stroke","#666").attr("stroke-width",0.4);
      [["2",712.5],["1",724],["0",734.5],["\u22121",745]].forEach(([s,yy])=>T(gg,360,yy,s,{size:6.5,anchor:"end"}));
      ["Neural","signature","ssGSEA","Z-score"].forEach((s,i)=>T(gg,364.5,716.5+i*8.6,s,{size:7}));
      ["Neural-","enriched","cluster"].forEach((s,i)=>T(gg,453,736.5+i*8.6,s,{size:7}));
      gg.append("line").attr("x1",449).attr("y1",754).attr("x2",439).attr("y2",768).attr("stroke","#222").attr("stroke-width",1).attr("stroke-dasharray","3,2");
    }
    if(p===1){
      [["n","17q not gained"],["g","17q gained"],["u","Unknown"]].forEach(([k,s],i)=>{
        gg.append("circle").attr("cx",493).attr("cy",712.3+i*7.7).attr("r",2).attr("fill",stCol[k]).attr("stroke","#666").attr("stroke-width",0.6);
        T(gg,498,714.8+i*7.7,s,{size:7});
      });
    }
    if(p===2){
      const gd=defs.append("linearGradient").attr("id","gSig").attr("x1",0).attr("x2",0).attr("y1",1).attr("y2",0);
      [-1.2,-0.6,0,1.1,2.3].forEach((v,i)=>gd.append("stop").attr("offset",i/4).attr("stop-color",sigCol(v)));
      gg.append("rect").attr("x",638.3).attr("y",710).attr("width",5).attr("height",43).attr("fill","url(#gSig)").attr("stroke","#666").attr("stroke-width",0.4);
      [["2.0",717],["1.0",730.3],["0.0",742.7],["\u22121.0",753.7]].forEach(([s,yy])=>T(gg,657,yy,s,{size:6.5,anchor:"end"}));
      ["Sig. 18","proportion","Z-score"].forEach((s,i)=>T(gg,660.5,724.5+i*8.7,s,{size:7}));
    }
  });
  T(g,336,768,"tSNE2",{size:12,anchor:"middle",rotate:-90});
}
</script>
</body></html>
